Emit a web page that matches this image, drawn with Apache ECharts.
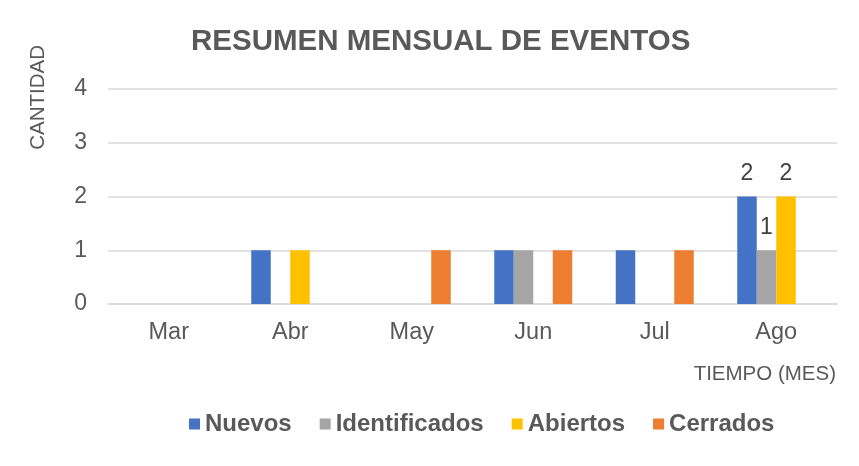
<!DOCTYPE html>
<html>
<head>
<meta charset="utf-8">
<script src="https://cdn.jsdelivr.net/npm/echarts@6/dist/echarts.min.js"></script>
<style>
  html, body { margin: 0; padding: 0; background: #fff; }
  #chart { width: 859px; height: 466px; }
</style>
</head>
<body>
<div id="chart"></div>
<script>
var months = ['Mar', 'Abr', 'May', 'Jun', 'Jul', 'Ago'];
var nuevos = [0, 1, 0, 1, 1, 2];
var identificados = [0, 0, 0, 1, 0, 1];
var abiertos = [0, 1, 0, 0, 0, 2];
var cerrados = [0, 0, 1, 1, 1, 0];
// only the last month carries data labels
var labelledMonth = 'Ago';

var font = 'Liberation Sans, Arial, sans-serif';
var textColor = '#595959';

function withLabels(values) {
  return values.map(function (v, i) {
    if (months[i] === labelledMonth && v > 0) {
      return { value: v, label: { show: true } };
    }
    return v;
  });
}

function makeSeries(name, values, color) {
  return {
    name: name,
    type: 'bar',
    barWidth: 19.5,
    barGap: '0%',
    itemStyle: { color: color },
    label: {
      show: false,
      position: 'top',
      distance: 11,
      color: '#404040',
      fontSize: 23,
      fontFamily: font
    },
    data: withLabels(values)
  };
}

var option = {
  backgroundColor: '#fff',
  animation: false,
  title: {
    text: 'RESUMEN MENSUAL DE EVENTOS',
    left: 186,
    top: 22,
    textStyle: { color: textColor, fontSize: 29.5, fontWeight: 'bold', fontFamily: font }
  },
  legend: {
    top: 407,
    left: 184,
    itemWidth: 11,
    itemHeight: 11,
    itemGap: 28,
    icon: 'rect',
    textStyle: { color: textColor, fontSize: 24, fontWeight: 'bold', fontFamily: font },
    data: ['Nuevos', 'Identificados', 'Abiertos', 'Cerrados']
  },
  grid: { left: 108, right: 22, top: 89, bottom: 162 },
  xAxis: {
    type: 'category',
    data: months,
    axisLine: { lineStyle: { color: '#d9d9d9', width: 1.5 } },
    axisTick: { show: false },
    axisLabel: { color: textColor, fontSize: 23.5, fontFamily: font, margin: 17 }
  },
  yAxis: {
    type: 'value',
    min: 0,
    max: 4,
    interval: 1,
    axisLine: { show: false },
    axisTick: { show: false },
    axisLabel: { color: textColor, fontSize: 23, fontFamily: font, margin: 21 },
    splitLine: { lineStyle: { color: '#d9d9d9', width: 1.5 } }
  },
  graphic: [
    {
      type: 'text',
      left: 28,
      top: 45,
      rotation: Math.PI / 2,
      style: { text: 'CANTIDAD', fill: textColor, fontSize: 20.5, fontFamily: font }
    },
    {
      type: 'text',
      right: 23,
      top: 364,
      style: { text: 'TIEMPO (MES)', fill: textColor, fontSize: 20.5, fontFamily: font }
    }
  ],
  series: [
    makeSeries('Nuevos', nuevos, '#4472C4'),
    makeSeries('Identificados', identificados, '#A5A5A5'),
    makeSeries('Abiertos', abiertos, '#FFC000'),
    makeSeries('Cerrados', cerrados, '#ED7D31')
  ]
};

var myChart = echarts.init(document.getElementById('chart'));
myChart.setOption(option);
</script>
</body>
</html>
